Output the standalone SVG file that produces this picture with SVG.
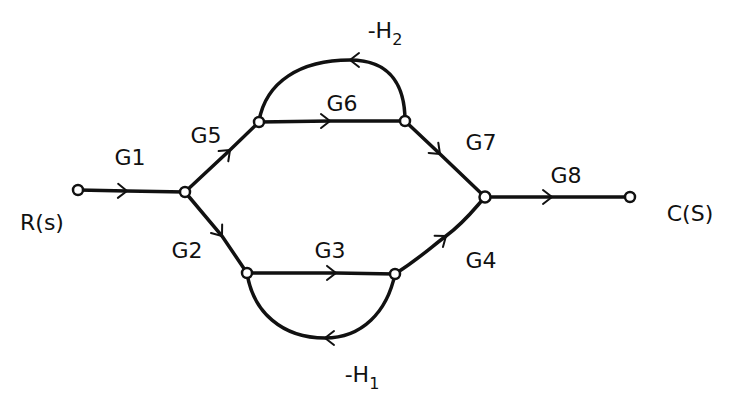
<svg xmlns="http://www.w3.org/2000/svg" width="730" height="405" viewBox="0 0 730 405">
<style>
.e{fill:none;stroke:#111;stroke-width:3.5;stroke-linecap:round;marker-mid:url(#chev)}
.n{fill:#fff;stroke:#111;stroke-width:2.5}
.t{font-family:"DejaVu Sans","Liberation Sans",sans-serif;font-size:22px;fill:#111;text-anchor:middle}
.s{font-size:16px}
</style>
<defs>
<marker id="chev" viewBox="-12 -10 14 20" markerWidth="14" markerHeight="20" refX="0" refY="0" orient="auto" markerUnits="userSpaceOnUse">
<path d="M-9,-7 L0,0 L-9,7" fill="none" stroke="#111" stroke-width="2" stroke-linecap="round" stroke-linejoin="round"/>
</marker>
</defs>
<rect width="730" height="405" fill="#fff"/>
<g id="connectors">
<path class="e" d="M78,190 L127,191 L185,192"/>
<path class="e" d="M185,192 L230,150 L259,122"/>
<path class="e" d="M185,192 L222,236 L247,273"/>
<path class="e" d="M259,122 L330,121 L405,121"/>
<path class="e" d="M405,121 C405,88 392,60 350,60 C300,60 266,82 259,121"/>
<path class="e" d="M247,273 L336,273 L395,274"/>
<path class="e" d="M395,274 C387,312 362,338 325,338 C282,338 253,312 247,273"/>
<path class="e" d="M405,121 L440,154 L485,197"/>
<path class="e" d="M395,274 C420,258 430,248 446,236 C465,222 475,208 485,197"/>
<path class="e" d="M485,197 L552,197 L630,197"/>
</g>
<g id="R"><circle class="n" cx="78" cy="190" r="5"/><text class="t" x="42" y="230">R(s)</text></g>
<g id="n1"><circle class="n" cx="185" cy="192" r="5"/></g>
<g id="n2"><circle class="n" cx="259" cy="122" r="5"/></g>
<g id="n3"><circle class="n" cx="405" cy="121" r="5"/></g>
<g id="n4"><circle class="n" cx="247" cy="273" r="5"/></g>
<g id="n5"><circle class="n" cx="395" cy="274" r="5"/></g>
<g id="n6"><circle class="n" cx="485" cy="197" r="5.5"/></g>
<g id="C"><circle class="n" cx="630" cy="197" r="5"/><text class="t" x="690" y="221">C(S)</text></g>
<g id="labels">
<text class="t" x="130" y="165">G1</text>
<text class="t" x="206" y="143">G5</text>
<text class="t" x="342" y="111">G6</text>
<text class="t" x="385" y="38">-H<tspan class="s" dy="7">2</tspan></text>
<text class="t" x="481" y="150">G7</text>
<text class="t" x="566" y="183">G8</text>
<text class="t" x="187" y="258">G2</text>
<text class="t" x="330" y="258">G3</text>
<text class="t" x="481" y="268">G4</text>
<text class="t" x="362" y="382">-H<tspan class="s" dy="7">1</tspan></text>
</g>
</svg>
